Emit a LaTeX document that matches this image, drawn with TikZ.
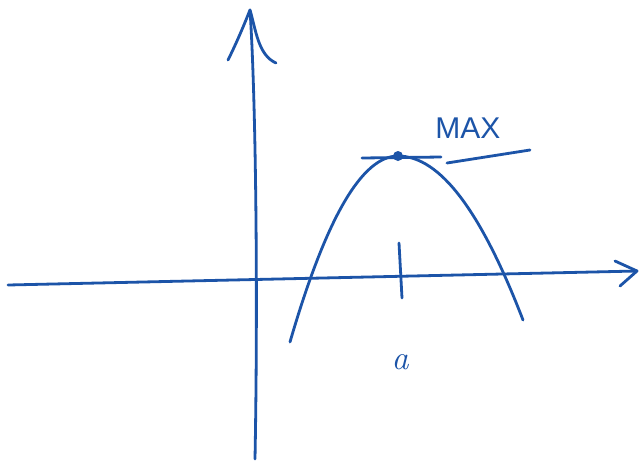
\documentclass[tikz,border=0pt]{standalone}
\usepackage{fontspec}
\setsansfont{Liberation Sans}
\begin{document}
\begin{tikzpicture}[x=0.5pt,y=-0.5pt,line cap=round,line join=round]
\definecolor{pen}{RGB}{28,84,168}
\tikzset{ink/.style={draw=pen,line width=1.4pt},
  lbl/.style={text=pen,inner sep=0pt}}
\useasboundingbox[fill=white] (0,0) rectangle (643,468);
% axes
\coordinate (xl) at (8,285);
\coordinate (xr) at (637,271);
\coordinate (yb) at (255,459);
\coordinate (yt) at (250,10);
\draw[ink] (xl) -- (xr);
\draw[ink] (615,261) -- (xr) -- (620,286);
\draw[ink] (yb) .. controls (258,300) and (256,100) .. (yt);
\draw[ink] (228,60) .. controls (238,40) and (246,20) .. (yt) .. controls (256,30) and (258,55) .. (276,63);
% parabola
\coordinate (pl) at (290,342);
\coordinate (pk) at (398,156);
\coordinate (pr) at (523,320);
\draw[ink] (pl) .. controls (326,218) and (362,156) .. (pk) .. controls (440,156) and (481,211) .. (pr);
% tangent at maximum
\coordinate (tl) at (362,158);
\coordinate (tr) at (441,157);
\draw[ink] (tl) -- (tr);
\fill[pen] (pk) circle (5);
% tick
\coordinate (ta) at (399,243);
\coordinate (tb) at (402,298);
\draw[ink] (ta) -- (tb);
% labels
\node[lbl,font=\sffamily\fontsize{15}{15}\selectfont] (max) at (468,128) {MAX};
\coordinate (ul) at (447,163);
\coordinate (ur) at (530,150);
\draw[ink] (ul) -- (ur);
\node[lbl,font=\itshape\fontsize{17}{17}\selectfont] (a) at (400,362) {a};
\end{tikzpicture}
\end{document}
